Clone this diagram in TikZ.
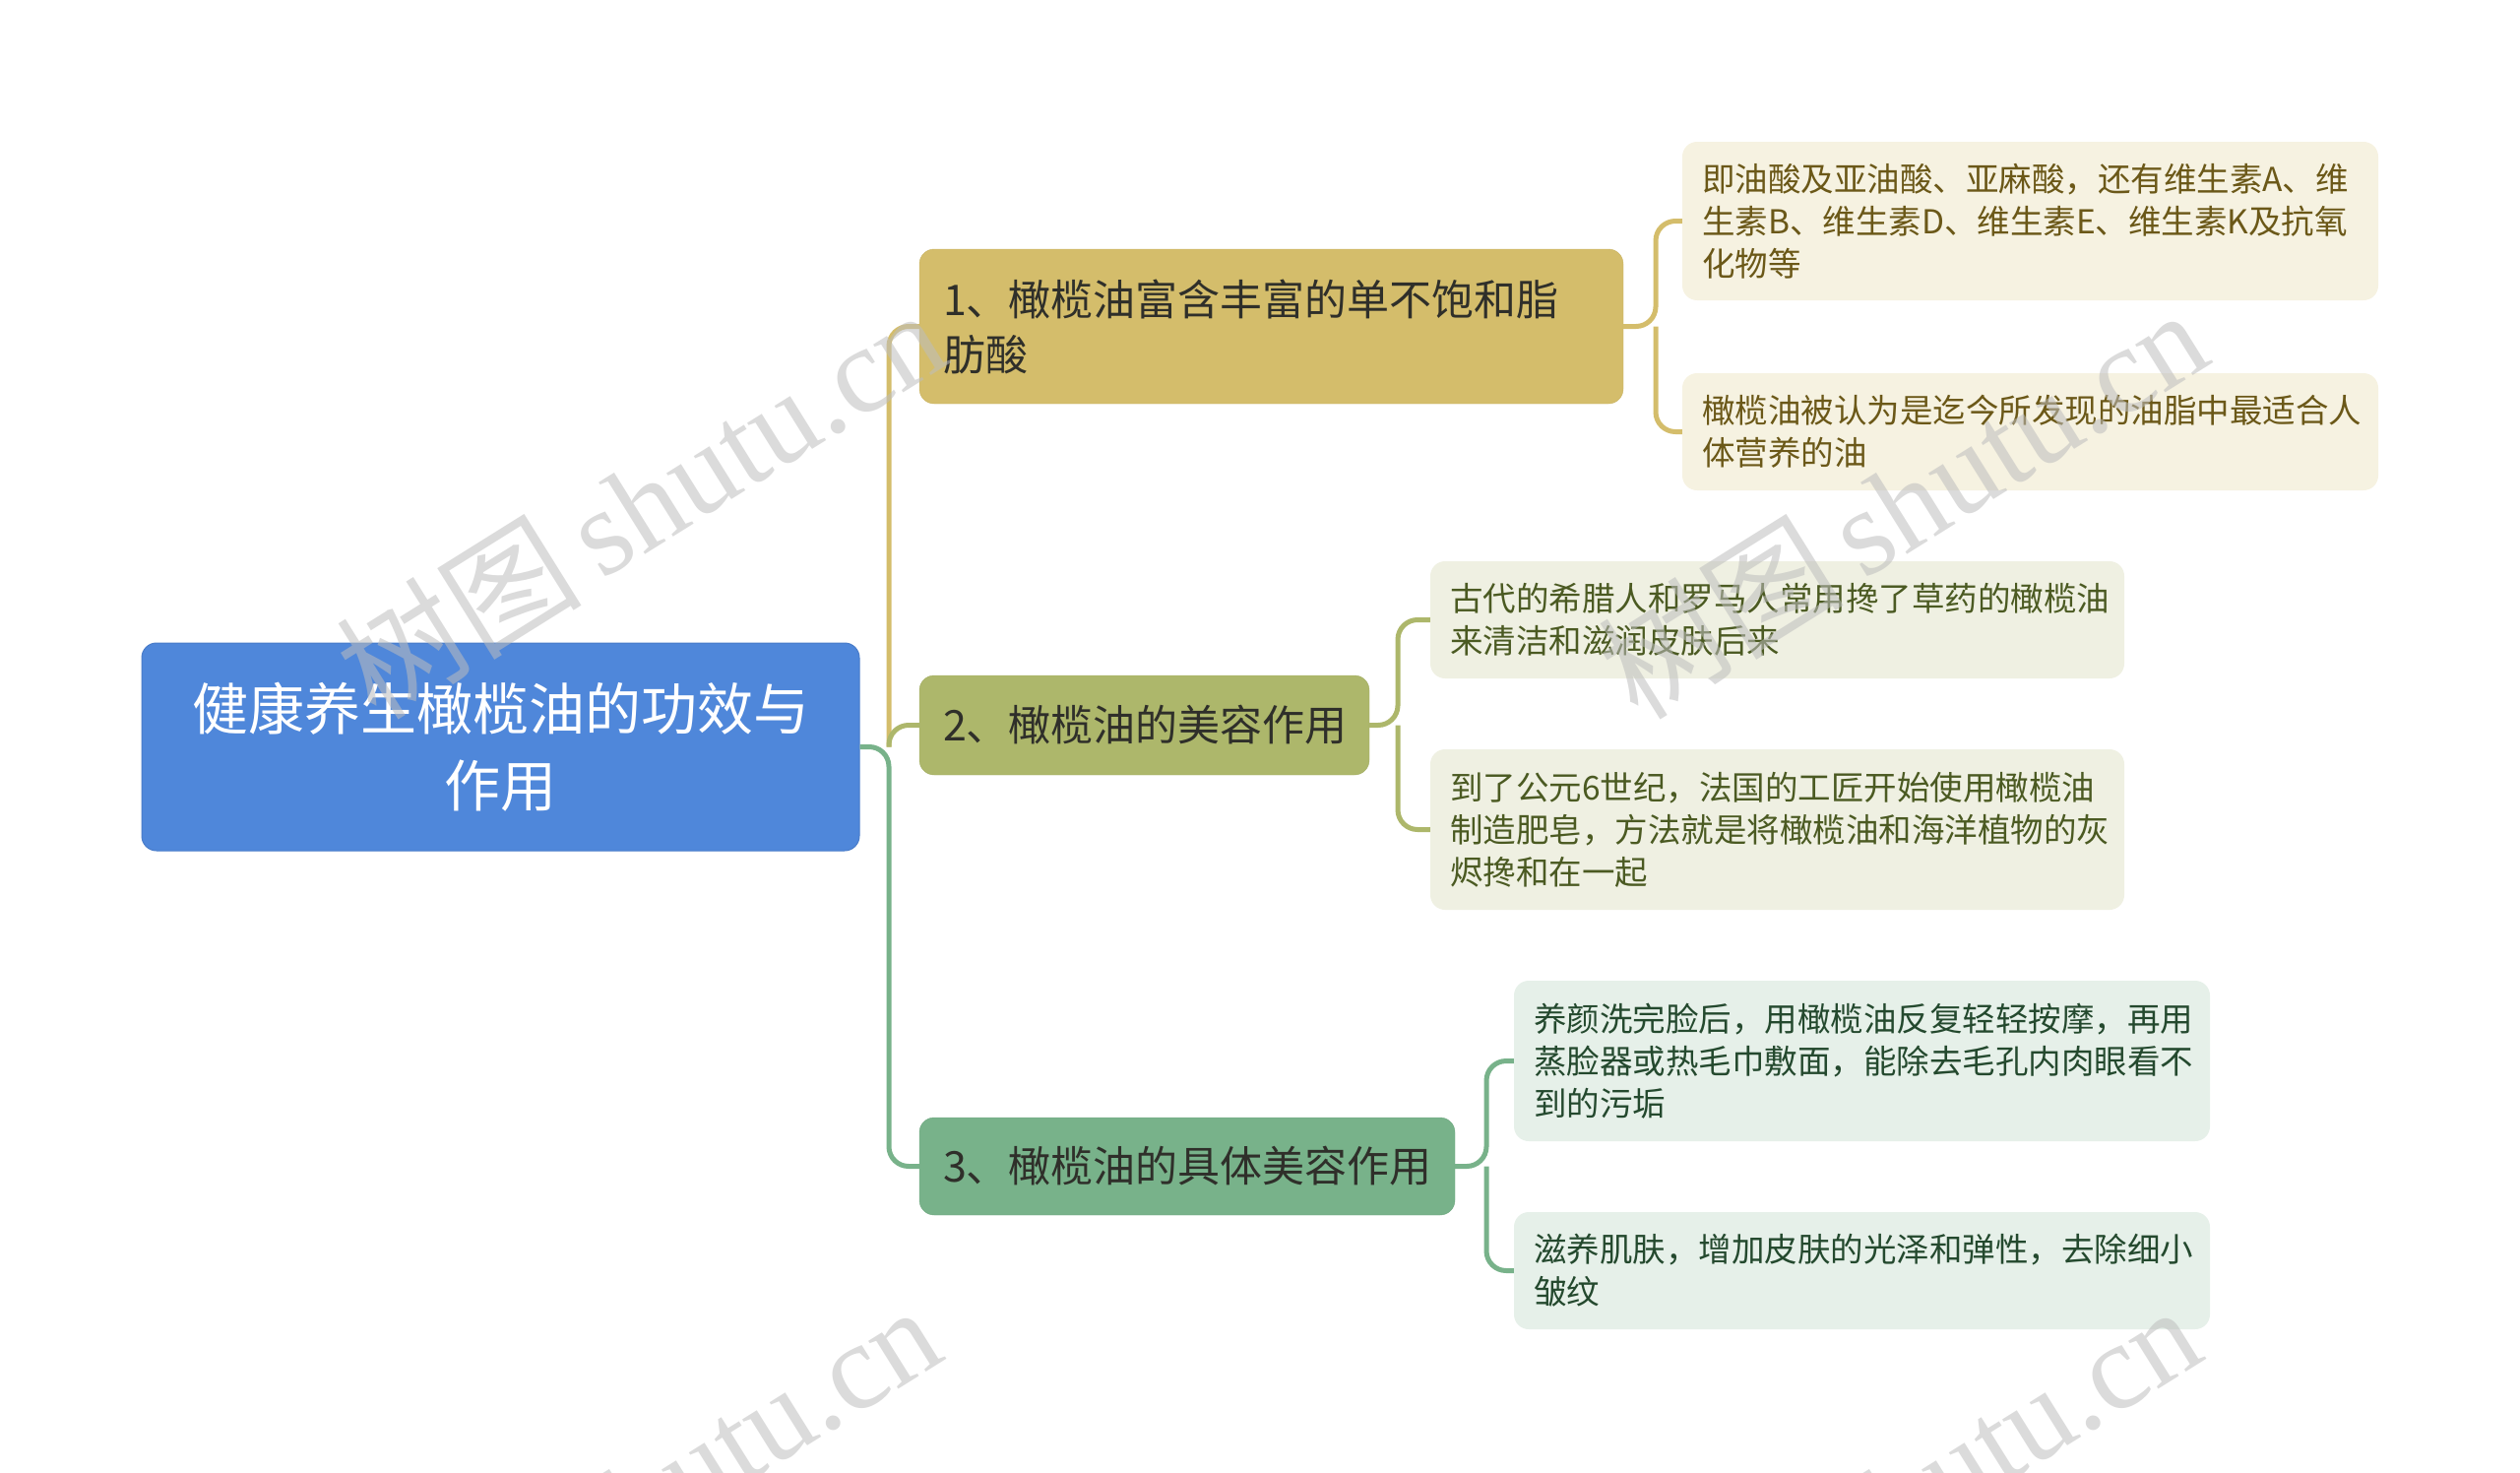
\documentclass[tikz,border=0pt]{standalone}
\usepackage{fontspec}
\setmainfont{Noto Sans CJK SC}
\newfontfamily\wmserif{Liberation Serif}
\usetikzlibrary{calc}
\definecolor{rootblue}{HTML}{4F87DA}
\definecolor{gold}{HTML}{D4BD6B}
\definecolor{olive}{HTML}{ADB76B}
\definecolor{sage}{HTML}{78B28A}
\definecolor{leafA}{HTML}{F6F2E1}
\definecolor{leafB}{HTML}{EFF0E2}
\definecolor{leafC}{HTML}{E6F0E9}
\definecolor{txtA}{HTML}{6B5818}
\definecolor{txtB}{HTML}{4B5A22}
\definecolor{txtC}{HTML}{24492E}
\definecolor{branchtxt}{HTML}{2F2F2A}
\definecolor{wm}{HTML}{BDBDBD}
\tikzset{
  box/.style={rectangle, rounded corners=15pt, inner sep=0pt, anchor=center},
  rootbox/.style={box, fill=rootblue, draw=rootblue!92!black, line width=1pt, text=white, align=center, font=\fontsize{57}{78}\selectfont},
  branchbox/.style={box, align=left, text=branchtxt, font=\fontsize{43}{56}\selectfont},
  leafbox/.style={box, align=left, font=\fontsize{33.5}{43}\selectfont},
  conn/.style={line width=5pt, rounded corners=20pt},
  wmark/.style={text=wm, opacity=0.55, rotate=32, anchor=center, inner sep=0pt}
}
\begin{document}
\begin{tikzpicture}[x=1pt,y=-1pt]
\useasboundingbox (0,0) rectangle (2560,1496);
% nodes
\node[rootbox, minimum width=729pt, minimum height=211pt, text width=700pt] (root) at (508.5,758.5) {健康养生橄榄油的功效与\\作用};
\node[branchbox, fill=gold, draw=gold!95!black, minimum width=715pt, minimum height=157pt, text width=667pt] (b1) at (1291.5,331.5) {1、橄榄油富含丰富的单不饱和脂\\肪酸};
\node[branchbox, fill=olive, draw=olive!95!black, minimum width=457pt, minimum height=101pt, text width=409pt] (b2) at (1162.5,736.5) {2、橄榄油的美容作用};
\node[branchbox, fill=sage, draw=sage!95!black, minimum width=544pt, minimum height=99pt, text width=496pt] (b3) at (1206,1184.5) {3、橄榄油的具体美容作用};
\node[leafbox, fill=leafA, text=txtA, minimum width=707pt, minimum height=161pt, text width=667pt] (l1a) at (2062.5,224.5) {即油酸及亚油酸、亚麻酸，还有维生素A、维\\生素B、维生素D、维生素E、维生素K及抗氧\\化物等};
\node[leafbox, fill=leafA, text=txtA, minimum width=707pt, minimum height=119pt, text width=667pt] (l1b) at (2062.5,438.5) {橄榄油被认为是迄今所发现的油脂中最适合人\\体营养的油};
\node[leafbox, fill=leafB, text=txtB, minimum width=705pt, minimum height=119pt, text width=665pt] (l2a) at (1805.5,629.5) {古代的希腊人和罗马人常用搀了草药的橄榄油\\来清洁和滋润皮肤后来};
\node[leafbox, fill=leafB, text=txtB, minimum width=705pt, minimum height=163pt, text width=665pt] (l2b) at (1805.5,842.5) {到了公元6世纪，法国的工匠开始使用橄榄油\\制造肥皂，方法就是将橄榄油和海洋植物的灰\\烬搀和在一起};
\node[leafbox, fill=leafC, text=txtC, minimum width=707pt, minimum height=163pt, text width=667pt] (l3a) at (1891.5,1077.5) {养颜洗完脸后，用橄榄油反复轻轻按摩，再用\\蒸脸器或热毛巾敷面，能除去毛孔内肉眼看不\\到的污垢};
\node[leafbox, fill=leafC, text=txtC, minimum width=707pt, minimum height=119pt, text width=667pt] (l3b) at (1891.5,1290.5) {滋养肌肤，增加皮肤的光泽和弹性，去除细小\\皱纹};
% junctions
\coordinate (j) at (903,758.5);
\coordinate (k1) at (1682,331.5);
\coordinate (k2) at (1420,736.5);
\coordinate (k3) at (1510,1184.5);
% connectors
\draw[conn, gold] (j) |- (b1.west);
\draw[conn, olive] (j) |- (b2.west);
\draw[conn, sage] (root.east) -- (j) |- (b3.west);
\draw[conn, gold] (b1.east) -- (k1) |- (l1a.west);
\draw[conn, gold] (k1) |- (l1b.west);
\draw[conn, olive] (b2.east) -- (k2) |- (l2a.west);
\draw[conn, olive] (k2) |- (l2b.west);
\draw[conn, sage] (b3.east) -- (k3) |- (l3a.west);
\draw[conn, sage] (k3) |- (l3b.west);
% watermarks
\begin{scope}
\clip (0,0) rectangle (2560,1496);
\node[wmark] (w1) at (650,510) {\fontsize{125}{125}\selectfont 树图\,\wmserif shutu.cn};
\node[wmark] (w2) at (1932,510) {\fontsize{125}{125}\selectfont 树图\,\wmserif shutu.cn};
\node[wmark] (w3) at (645,1522) {\fontsize{125}{125}\selectfont 树图\,\wmserif shutu.cn};
\node[wmark] (w4) at (1925,1522) {\fontsize{125}{125}\selectfont 树图\,\wmserif shutu.cn};
\end{scope}
\end{tikzpicture}
\end{document}
